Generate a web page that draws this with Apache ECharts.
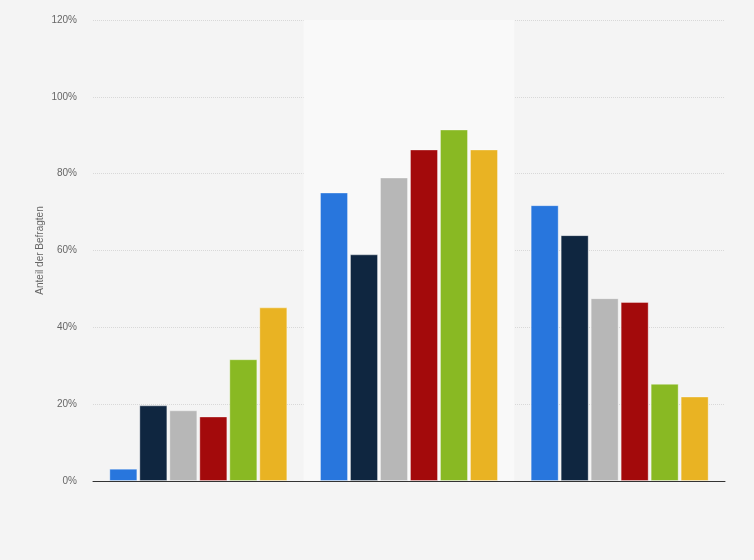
<!DOCTYPE html>
<html>
<head>
<meta charset="utf-8">
<script src="https://cdn.jsdelivr.net/npm/echarts@6/dist/echarts.min.js"></script>
<style>html,body{margin:0;padding:0;background:#f4f4f4;}#c{width:754px;height:560px;}</style>
</head>
<body>
<div id="c"></div>
<script>
const categories = ['Kategorie 1', 'Kategorie 2', 'Kategorie 3'];
const seriesNames = ['Serie 1', 'Serie 2', 'Serie 3', 'Serie 4', 'Serie 5', 'Serie 6'];
const s1 = [3.2, 75.1, 71.8];
const s2 = [19.7, 59.0, 64.0];
const s3 = [18.4, 79.0, 47.6];
const s4 = [16.8, 86.3, 46.6];
const s5 = [31.7, 91.5, 25.3];
const s6 = [45.2, 86.3, 22.0];
const colors = ['#2876dd', '#0f2640', '#b7b7b7', '#a30a0b', '#89b923', '#e9b323'];
const yTicks = { min: 0, max: 120, interval: 20 };

const allData = [s1, s2, s3, s4, s5, s6];
const chart = echarts.init(document.getElementById('c'));
chart.setOption({
  backgroundColor: '#f4f4f4',
  animation: false,
  grid: { left: 93, right: 29, top: 20, bottom: 79 },
  xAxis: {
    type: 'category',
    data: categories,
    axisLine: { show: true, lineStyle: { color: '#333', width: 1 } },
    axisTick: { show: false },
    axisLabel: { show: false },
    splitArea: { show: true, areaStyle: { color: ['rgba(0,0,0,0)', '#f9f9f9'] } }
  },
  yAxis: {
    type: 'value',
    min: yTicks.min, max: yTicks.max, interval: yTicks.interval,
    name: 'Anteil der Befragten',
    nameLocation: 'middle',
    nameGap: 48,
    nameMoveOverlap: false,
    nameTextStyle: { color: '#666', fontSize: 10, fontFamily: 'Arial, Liberation Sans, sans-serif' },
    axisLine: { show: false },
    axisTick: { show: false },
    axisLabel: { formatter: '{value}%', color: '#666', fontSize: 10, margin: 16, fontFamily: 'Arial, Liberation Sans, sans-serif' },
    splitLine: { show: true, lineStyle: { color: '#d8d8d8', type: 'dotted', width: 1 } }
  },
  series: allData.map((d, i) => ({
    name: seriesNames[i],
    type: 'bar',
    data: d,
    barGap: '7%',
    barCategoryGap: '15.5%',
    itemStyle: { color: colors[i], borderColor: 'rgba(255,255,255,0.35)', borderWidth: 1 }
  }))
});
</script>
</body>
</html>
